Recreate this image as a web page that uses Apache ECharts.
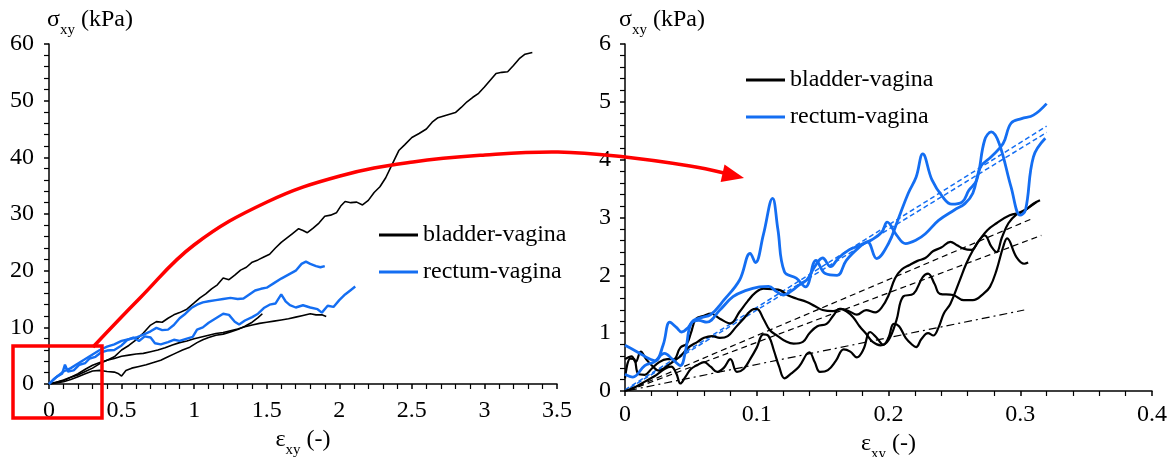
<!DOCTYPE html>
<html lang="en">
<head>
    <meta charset="UTF-8">
    <title>shear stress - strain</title>
    <script src="https://cdn.jsdelivr.net/npm/echarts@6/dist/echarts.min.js"></script>
</head>
<style>
    body{ margin:0; background:#fff; }
    #chart{ width:1172px; height:457px; }
</style>
<body>
<div id="chart"></div>
<script>
    // left panel, full range (strain, stress kPa)
    var bvLong = [[0,0],[0.05,0.3],[0.1,0.6],[0.15,1.2],[0.2,1.6],[0.25,2.2],[0.3,2.8],[0.35,3.6],[0.4,4.2],[0.45,4.8],[0.5,6.0],[0.55,6.8],[0.6,7.8],[0.65,9.0],[0.7,10.4],[0.74,11.0],[0.78,10.9],[0.82,11.6],[0.86,12.2],[0.9,12.6],[0.95,13.2],[1.0,14.3],[1.04,15.2],[1.08,15.9],[1.12,16.8],[1.16,17.5],[1.2,18.7],[1.24,18.4],[1.28,19.2],[1.32,20.1],[1.36,20.6],[1.4,21.5],[1.44,21.9],[1.48,22.4],[1.52,22.9],[1.56,24.0],[1.6,25.0],[1.64,25.8],[1.68,26.6],[1.72,27.4],[1.75,27.1],[1.78,26.7],[1.82,27.5],[1.86,28.4],[1.9,29.6],[1.94,29.8],[1.98,30.2],[2.01,31.4],[2.04,32.2],[2.08,32.0],[2.12,32.1],[2.16,31.6],[2.2,32.4],[2.24,33.8],[2.28,34.8],[2.32,36.4],[2.35,38.0],[2.38,39.6],[2.41,41.2],[2.45,42.2],[2.5,43.5],[2.55,44.2],[2.6,45.0],[2.64,46.2],[2.68,47.0],[2.72,47.3],[2.76,47.6],[2.8,47.9],[2.84,48.8],[2.88,49.8],[2.92,50.6],[2.96,51.3],[3.0,52.4],[3.04,53.6],[3.08,54.8],[3.12,55.0],[3.16,55.1],[3.2,56.2],[3.24,57.4],[3.28,58.2],[3.33,58.5]];
    var bvMid = [[0,0],[0.05,0.3],[0.1,0.7],[0.15,1.2],[0.2,1.8],[0.25,2.6],[0.3,3.3],[0.35,3.8],[0.4,4.2],[0.45,4.5],[0.5,4.9],[0.55,5.1],[0.6,5.3],[0.65,5.4],[0.7,5.7],[0.75,6.0],[0.8,6.4],[0.85,6.9],[0.9,7.3],[0.95,7.6],[1.0,8.0],[1.05,8.3],[1.1,8.6],[1.15,8.9],[1.2,9.1],[1.25,9.4],[1.3,9.7],[1.35,10.1],[1.4,10.4],[1.45,10.7],[1.5,10.9],[1.55,11.1],[1.6,11.3],[1.65,11.5],[1.7,11.8],[1.75,12.1],[1.8,12.4],[1.84,12.2],[1.88,12.2],[1.91,11.9]];
    var bvLow = [[0,0],[0.05,0.2],[0.1,0.4],[0.15,0.8],[0.2,1.3],[0.25,1.8],[0.3,2.3],[0.35,2.4],[0.4,2.2],[0.45,2.1],[0.48,1.8],[0.5,1.4],[0.53,2.4],[0.57,2.8],[0.62,3.1],[0.67,3.4],[0.72,3.8],[0.77,4.2],[0.82,4.8],[0.87,5.4],[0.92,6.0],[0.97,6.5],[1.02,7.3],[1.06,7.8],[1.1,8.2],[1.15,8.6],[1.2,8.8],[1.25,9.2],[1.3,9.6],[1.35,10.2],[1.4,10.9],[1.44,11.7],[1.47,12.4]];
    var rvUp = [[0,0],[0.05,1.2],[0.1,2.2],[0.15,2.8],[0.2,3.6],[0.25,4.4],[0.3,5.2],[0.35,6.0],[0.4,6.6],[0.45,7.0],[0.5,7.6],[0.55,7.9],[0.6,8.2],[0.65,8.7],[0.7,9.3],[0.74,9.9],[0.78,9.5],[0.82,9.6],[0.86,10.4],[0.9,11.6],[0.94,12.4],[0.98,13.4],[1.02,14.0],[1.06,14.4],[1.1,14.6],[1.15,14.8],[1.2,15.0],[1.25,15.2],[1.3,15.0],[1.34,15.1],[1.38,15.8],[1.42,16.5],[1.46,16.8],[1.5,17.0],[1.55,17.8],[1.6,18.6],[1.65,19.3],[1.7,20.0],[1.74,21.2],[1.77,21.6],[1.8,21.2],[1.84,20.8],[1.87,20.6],[1.9,20.8]];
    var rvLow = [[0,0],[0.03,0.8],[0.06,1.4],[0.09,1.8],[0.11,3.4],[0.13,2.2],[0.17,2.4],[0.21,3.4],[0.25,3.7],[0.28,4.5],[0.32,4.8],[0.36,5.6],[0.4,5.9],[0.45,6.0],[0.5,6.8],[0.54,7.8],[0.58,8.2],[0.62,7.6],[0.66,8.4],[0.7,8.2],[0.73,7.2],[0.77,7.0],[0.82,7.4],[0.86,7.8],[0.9,7.6],[0.95,8.0],[0.99,8.3],[1.02,9.6],[1.06,10.0],[1.1,10.8],[1.15,11.6],[1.2,12.4],[1.24,12.2],[1.28,11.0],[1.31,10.5],[1.35,11.2],[1.4,11.8],[1.44,12.4],[1.48,13.4],[1.52,14.0],[1.56,14.2],[1.6,15.8],[1.63,14.6],[1.66,13.9],[1.7,13.5],[1.75,13.9],[1.8,13.5],[1.85,13.2],[1.88,12.6],[1.92,13.8],[1.96,13.6],[2.0,14.8],[2.04,15.8],[2.08,16.6],[2.11,17.2]];

    // right panel, zoom on small strain
    var zbvA = [[0,0.22],[0.004,0.56],[0.007,0.55],[0.01,0.3],[0.015,0.28],[0.02,0.38],[0.026,0.5],[0.032,0.55],[0.037,0.55],[0.042,0.75],[0.047,0.82],[0.05,1.0],[0.054,1.25],[0.06,1.3],[0.065,1.34],[0.072,1.25],[0.08,1.17],[0.087,1.37],[0.093,1.55],[0.099,1.7],[0.105,1.77],[0.112,1.76],[0.118,1.74],[0.124,1.65],[0.13,1.6],[0.138,1.54],[0.144,1.47],[0.15,1.4],[0.158,1.38],[0.164,1.42],[0.17,1.38],[0.176,1.32],[0.183,1.4],[0.19,1.36],[0.195,1.45],[0.2,1.65],[0.205,1.95],[0.21,2.1],[0.216,2.18],[0.222,2.25],[0.228,2.3],[0.234,2.42],[0.24,2.48],[0.247,2.58],[0.252,2.52],[0.257,2.46],[0.263,2.44],[0.268,2.58],[0.275,2.78],[0.282,2.9],[0.292,3.04],[0.302,3.1],[0.31,3.24],[0.315,3.3]];
    var zbvB = [[0,0.55],[0.005,0.6],[0.008,0.5],[0.012,0.68],[0.016,0.55],[0.02,0.45],[0.026,0.35],[0.03,0.4],[0.036,0.5],[0.042,0.6],[0.048,0.75],[0.055,0.85],[0.06,0.92],[0.066,0.95],[0.072,0.92],[0.078,0.95],[0.084,1.1],[0.09,1.25],[0.096,1.4],[0.1,1.42],[0.105,1.25],[0.11,1.05],[0.116,0.95],[0.122,0.86],[0.128,0.82],[0.135,0.85],[0.14,1.0],[0.146,1.12],[0.153,1.16],[0.158,1.3],[0.163,1.42],[0.168,1.38],[0.173,1.28],[0.178,1.12],[0.183,0.99],[0.188,0.85],[0.194,0.79],[0.2,0.88],[0.206,1.22],[0.211,1.63],[0.219,1.68],[0.226,1.97],[0.23,2.03],[0.235,1.85],[0.239,1.68],[0.249,1.66],[0.257,1.57],[0.264,1.57],[0.272,1.68],[0.277,1.8],[0.282,2.09],[0.287,2.49],[0.29,2.64],[0.297,2.32],[0.303,2.2],[0.306,2.22]];
    var zbvC = [[0,0],[0.006,0.05],[0.012,0.12],[0.018,0.2],[0.024,0.28],[0.03,0.38],[0.035,0.42],[0.039,0.3],[0.042,0.13],[0.046,0.25],[0.05,0.38],[0.055,0.45],[0.06,0.5],[0.065,0.42],[0.07,0.33],[0.075,0.4],[0.08,0.55],[0.085,0.33],[0.09,0.38],[0.095,0.55],[0.1,0.75],[0.105,0.98],[0.109,0.95],[0.113,0.7],[0.117,0.42],[0.121,0.22],[0.126,0.3],[0.132,0.42],[0.14,0.67],[0.144,0.5],[0.148,0.33],[0.154,0.36],[0.16,0.52],[0.166,0.72],[0.171,0.68],[0.176,0.58],[0.181,0.72],[0.186,1.02],[0.191,0.92],[0.196,0.8],[0.2,0.92],[0.204,1.16],[0.208,1.12],[0.213,0.92],[0.218,0.8],[0.221,0.76],[0.225,0.9],[0.23,1.0],[0.234,0.96],[0.238,1.1],[0.242,1.34],[0.247,1.51],[0.254,1.91],[0.259,2.2],[0.264,2.43],[0.27,2.64],[0.273,2.69],[0.278,2.5],[0.282,2.4],[0.286,2.65],[0.291,2.9],[0.297,3.05],[0.305,3.15],[0.312,3.26]];
    var zrvA = [[0,0.79],[0.009,0.68],[0.018,0.56],[0.023,0.52],[0.029,0.8],[0.034,1.19],[0.039,1.1],[0.043,1.02],[0.048,1.1],[0.052,1.22],[0.058,1.27],[0.065,1.32],[0.075,1.57],[0.087,1.92],[0.095,2.38],[0.099,2.22],[0.105,2.7],[0.112,3.33],[0.116,2.8],[0.121,2.06],[0.13,1.95],[0.137,1.8],[0.145,2.26],[0.152,2.03],[0.161,2.0],[0.168,2.26],[0.178,2.49],[0.184,2.58],[0.191,2.29],[0.2,2.55],[0.207,2.95],[0.215,3.42],[0.221,3.7],[0.226,4.1],[0.233,3.65],[0.241,3.36],[0.248,3.23],[0.256,3.27],[0.261,3.47],[0.267,3.65],[0.273,4.34],[0.278,4.48],[0.284,4.28],[0.293,3.53],[0.3,3.04],[0.304,3.13],[0.31,4.05],[0.319,4.37]];
    var zrvB = [[0,0.29],[0.006,0.24],[0.015,0.44],[0.022,0.5],[0.03,0.65],[0.036,0.55],[0.042,0.44],[0.046,0.7],[0.05,1.16],[0.056,1.22],[0.062,1.19],[0.072,1.4],[0.082,1.63],[0.092,1.74],[0.102,1.8],[0.109,1.81],[0.115,1.72],[0.12,1.66],[0.127,1.74],[0.132,1.83],[0.138,1.92],[0.144,2.15],[0.15,2.3],[0.156,2.15],[0.162,2.3],[0.17,2.44],[0.175,2.49],[0.181,2.55],[0.187,2.61],[0.195,2.75],[0.199,2.92],[0.206,2.7],[0.213,2.55],[0.221,2.61],[0.228,2.72],[0.238,2.95],[0.25,3.13],[0.258,3.24],[0.264,3.42],[0.27,3.88],[0.278,4.05],[0.287,4.28],[0.293,4.63],[0.301,4.71],[0.31,4.77],[0.32,4.97]];

    // linear fits drawn on the zoom
    var fitRv1 = [[0,0.02],[0.32,4.58]];
    var fitRv2 = [[0.004,0.06],[0.32,4.47]];
    var fitBv1 = [[0.003,0.02],[0.309,2.98]];
    var fitBv2 = [[0.003,0.01],[0.316,2.69]];
    var fitBv3 = [[0.003,0.01],[0.303,1.40]];

    var font = 'Liberation Serif';
    var blue = '#146EF2';

    function chart() {
        var myChart = echarts.init(document.getElementById('chart'));
        var rich = {
            s: {fontSize: 24, fontFamily: font, color: '#000', lineHeight: 30, verticalAlign: 'top'},
            sub: {fontSize: 15, fontFamily: font, color: '#000', lineHeight: 15, verticalAlign: 'bottom'}
        };
        var axisCommon = {
            type: 'value',
            axisLine: {show: true, lineStyle: {color: '#000', width: 1.5}},
            axisTick: {show: true, length: 5, lineStyle: {color: '#000', width: 1.5}},
            minorTick: {show: true, splitNumber: 5, length: 5, lineStyle: {color: '#000', width: 1.2}},
            splitLine: {show: false},
            axisLabel: {color: '#000', fontSize: 24, fontFamily: font}
        };
        function ax(extra) {
            return echarts.util.merge(echarts.util.clone(axisCommon), extra, true);
        }
        function line(name, data, idx, color, width, type, smooth) {
            return {
                name: name, type: 'line', xAxisIndex: idx, yAxisIndex: idx,
                data: data, symbol: 'none', smooth: smooth || false, silent: true,
                lineStyle: {color: color, width: width, type: type || 'solid'},
                itemStyle: {color: color}
            };
        }
        var legendCommon = {
            orient: 'vertical', icon: 'rect', itemWidth: 39, itemHeight: 3, itemGap: 13,
            textStyle: {fontSize: 24, fontFamily: font, color: '#000'},
            data: ['bladder-vagina', 'rectum-vagina']
        };

        option = {
            animation: false,
            textStyle: {fontFamily: font},
            grid: [
                {left: 49, top: 44, width: 508, height: 340, outerBoundsMode: 'none', containLabel: false},
                {left: 625, top: 44, width: 527, height: 347, outerBoundsMode: 'none', containLabel: false}
            ],
            legend: [
                echarts.util.extend({left: 374, top: 218}, legendCommon),
                echarts.util.extend({left: 741, top: 63}, legendCommon)
            ],
            xAxis: [
                ax({gridIndex: 0, min: 0, max: 3.5, interval: 0.5,
                    axisLabel: {margin: 15},
                    name: '{s|ε}{sub|xy}{s| (-)}', nameLocation: 'middle', nameGap: 38,
                    nameTextStyle: {rich: rich}}),
                ax({gridIndex: 1, min: 0, max: 0.4, interval: 0.1,
                    axisLabel: {margin: 12},
                    name: '{s|ε}{sub|xy}{s| (-)}', nameLocation: 'middle', nameGap: 34,
                    nameTextStyle: {rich: rich}})
            ],
            yAxis: [
                ax({gridIndex: 0, min: 0, max: 60, interval: 10,
                    axisLabel: {margin: 15},
                    name: '{s|σ}{sub|xy}{s| (kPa)}', nameLocation: 'end', nameGap: 6,
                    nameTextStyle: {rich: rich, align: 'left', padding: [0, 0, 0, -2]}}),
                ax({gridIndex: 1, min: 0, max: 6, interval: 1,
                    axisLabel: {margin: 14},
                    name: '{s|σ}{sub|xy}{s| (kPa)}', nameLocation: 'end', nameGap: 6,
                    nameTextStyle: {rich: rich, align: 'left', padding: [0, 0, 0, -6]}})
            ],
            series: [
                line('bladder-vagina', bvLong, 0, '#000', 1.6),
                line('bladder-vagina', bvMid, 0, '#000', 1.6),
                line('bladder-vagina', bvLow, 0, '#000', 1.6),
                line('rectum-vagina', rvUp, 0, blue, 2.4),
                line('rectum-vagina', rvLow, 0, blue, 2.4),

                line('fit-bv-1', fitBv1, 1, '#000', 1.2, [6, 4]),
                line('fit-bv-2', fitBv2, 1, '#000', 1.2, [6, 4]),
                line('fit-bv-3', fitBv3, 1, '#000', 1.2, [8, 4, 2, 4]),
                line('fit-rv-1', fitRv1, 1, blue, 1.5, [5, 3]),
                line('fit-rv-2', fitRv2, 1, blue, 1.5, [5, 3]),
                line('bladder-vagina', zbvA, 1, '#000', 2.2, 'solid', 0.4),
                line('bladder-vagina', zbvB, 1, '#000', 2.2, 'solid', 0.4),
                line('bladder-vagina', zbvC, 1, '#000', 2.2, 'solid', 0.4),
                line('rectum-vagina', zrvA, 1, blue, 2.8, 'solid', 0.4),
                line('rectum-vagina', zrvB, 1, blue, 2.8, 'solid', 0.4)
            ],
            // zoom box + arrow pointing at the right panel
            graphic: [
                {type: 'rect', z: 100, shape: {x: 13, y: 346, width: 89, height: 72},
                    style: {fill: 'none', stroke: '#f00', lineWidth: 3.5}},
                {type: 'polyline', z: 100,
                    shape: {points: [[93,347],[140,298],[194,245],[267,202],[340,176],[413,162],[485,155],[558,152],[625,157],[690,166],[724,173]], smooth: 0.4},
                    style: {fill: 'none', stroke: '#f00', lineWidth: 3.5}},
                {type: 'polygon', z: 100,
                    shape: {points: [[744,178],[724.5,164.4],[720.6,182]]},
                    style: {fill: '#f00'}}
            ]
        };
        myChart.setOption(option);
    }

    chart();
</script>
</body>
</html>
